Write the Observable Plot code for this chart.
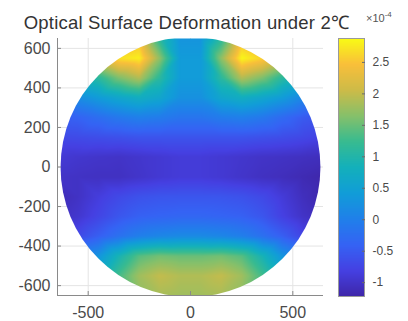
<!DOCTYPE html>
<html>
<head>
<meta charset="utf-8">
<script src="https://cdn.jsdelivr.net/npm/d3@7"></script>
<script src="https://cdn.jsdelivr.net/npm/@observablehq/plot@0.6"></script>
<style>
  html, body { margin: 0; padding: 0; background: #fff; }
  #chart { position: relative; width: 408px; height: 321px; overflow: hidden;
           font-family: "Liberation Sans", Arial, Helvetica, sans-serif; }
  #chart svg { position: absolute; left: 0; top: 0; }
  #title { position: absolute; left: 0; top: 14px; width: 373px; text-align: center;
           font-size: 18.5px; line-height: 18px; color: #333; white-space: nowrap; letter-spacing: 0.2px; }
  #exponent { position: absolute; left: 366px; top: 9px; font-size: 11px; line-height: 11px; color: #555; }
  #exponent sup { font-size: 8px; vertical-align: 5px; }
</style>
</head>
<body>
<div id="chart">
  <div id="title"></div>
  <div id="exponent"></div>
</div>
<script>
// Labels and axes
const titleText = "Optical Surface Deformation under 2℃";
const xTicks = [-500, 0, 500];
const yTicks = [-600, -400, -200, 0, 200, 400, 600];
const cbTicks = [-1, -0.5, 0, 0.5, 1, 1.5, 2, 2.5];
const cbExponent = -4;
const xDomain = [-650, 650];
const yDomain = [-650, 650];
const colorDomain = [-1.22, 2.88];
const apertureRadius = 635;

// Sample grid (mm) for the deformation field, values in units of 1e-4
const gridX = [-650, -550, -450, -350, -250, -150, -50, 50, 150, 250, 350, 450, 550, 650];
const gridY = [650, 550, 450, 350, 250, 150, 50, -50, -150, -250, -350, -450, -550, -650];
const zRow650  = [1.0, 1.5, 2.0, 2.4, 2.4, 1.1, 0.3, 0.3, 1.1, 2.4, 2.4, 2.0, 1.5, 1.0];
const zRow550  = [1.6, 1.9, 2.3, 2.7, 2.8, 1.7, 0.4, 0.4, 1.7, 2.85, 2.6, 2.3, 1.9, 1.6];
const zRow450  = [0.6, 0.8, 1.1, 1.6, 1.9, 1.1, 0.4, 0.4, 1.1, 1.9, 1.6, 1.1, 0.8, 0.6];
const zRow350  = [-0.1, 0.2, 0.4, 0.6, 0.75, 0.6, 0.25, 0.25, 0.6, 0.75, 0.6, 0.4, 0.1, -0.2];
const zRow250  = [-0.5, -0.4, -0.25, -0.1, 0.0, -0.05, -0.15, -0.15, -0.05, 0.0, -0.1, -0.3, -0.5, -0.6];
const zRow150  = [-0.7, -0.68, -0.65, -0.62, -0.58, -0.58, -0.58, -0.58, -0.58, -0.58, -0.62, -0.66, -0.72, -0.8];
const zRow50   = [-0.9, -0.95, -0.98, -1.0, -0.96, -0.92, -0.88, -0.88, -0.92, -0.96, -1.0, -1.02, -1.05, -1.08];
const zRowM50  = [-1.0, -1.02, -1.04, -1.04, -0.98, -0.92, -0.88, -0.88, -0.92, -0.98, -1.04, -1.08, -1.14, -1.2];
const zRowM150 = [-1.12, -1.02, -0.85, -0.7, -0.6, -0.56, -0.55, -0.55, -0.56, -0.6, -0.7, -0.88, -1.07, -1.2];
const zRowM250 = [-1.05, -0.95, -0.75, -0.55, -0.42, -0.38, -0.35, -0.35, -0.38, -0.42, -0.55, -0.8, -1.0, -1.1];
const zRowM350 = [-0.95, -0.7, -0.45, -0.2, 0.0, 0.1, 0.15, 0.15, 0.1, 0.0, -0.2, -0.45, -0.75, -1.0];
const zRowM450 = [-0.5, -0.1, 0.3, 0.9, 1.4, 1.55, 1.5, 1.5, 1.55, 1.4, 0.9, 0.3, -0.1, -0.5];
const zRowM550 = [0.3, 0.7, 1.0, 1.3, 1.8, 2.0, 1.9, 1.9, 2.0, 1.8, 1.3, 1.0, 0.7, 0.3];
const zRowM650 = [0.6, 0.9, 1.1, 1.4, 1.7, 1.85, 1.8, 1.8, 1.85, 1.7, 1.4, 1.1, 0.9, 0.6];
const zRows = [zRow650, zRow550, zRow450, zRow350, zRow250, zRow150, zRow50,
               zRowM50, zRowM150, zRowM250, zRowM350, zRowM450, zRowM550, zRowM650];

// Parula-like colormap, evenly spaced stops
const parulaStops = ["#3e26a8", "#4540e2", "#3563f4", "#2080ea", "#119dd8", "#13b0bb",
                     "#38bb90", "#86c06a", "#cdbb48", "#f9bf3a", "#f9fb15"];
const parula = d3.piecewise(d3.interpolateRgb, parulaStops);

const samples = [];
gridY.forEach((y, i) => gridX.forEach((x, j) => samples.push({x, y, z: zRows[i][j]})));

const colorScale = {type: "linear", domain: colorDomain, interpolate: parula, clamp: true};
const fmt = d => String(d);
const fontStack = '"Liberation Sans", Arial, Helvetica, sans-serif';

// Surface map
const main = Plot.plot({
  width: 408, height: 321,
  marginLeft: 57, marginRight: 85, marginTop: 38, marginBottom: 26,
  x: {domain: xDomain, label: null},
  y: {domain: yDomain, label: null},
  color: colorScale,
  style: {fontFamily: fontStack, fontSize: "16px", color: "#4a4a4a", background: "transparent"},
  marks: [
    Plot.gridX(xTicks, {stroke: "#e4e4e4", strokeOpacity: 1}),
    Plot.gridY(yTicks, {stroke: "#e4e4e4", strokeOpacity: 1}),
    Plot.raster(samples, {
      x: "x", y: "y", fill: "z", interpolate: "barycentric",
      x1: xDomain[0], x2: xDomain[1], y1: yDomain[0], y2: yDomain[1]
    }),
    Plot.ruleX([xDomain[0]], {stroke: "#8a8a8a"}),
    Plot.ruleY([yDomain[0]], {stroke: "#8a8a8a"}),
    Plot.axisX(xTicks, {tickSize: 0, tickPadding: 11, tickFormat: fmt, label: null}),
    Plot.axisX(xTicks, {tickSize: 4, dy: -4, tickFormat: () => "", stroke: "#8a8a8a", label: null}),
    Plot.axisY(yTicks, {tickSize: 0, tickPadding: 7, tickFormat: fmt, label: null}),
    Plot.axisY(yTicks, {tickSize: 4, dx: 4, tickFormat: () => "", stroke: "#8a8a8a", label: null})
  ]
});

// Clip the field to the circular aperture
const sx = main.scale("x"), sy = main.scale("y");
const cx = sx.apply(0), cy = sy.apply(0);
const r = sx.apply(apertureRadius) - cx;
const ns = "http://www.w3.org/2000/svg";
const defs = document.createElementNS(ns, "defs");
const clip = document.createElementNS(ns, "clipPath");
clip.setAttribute("id", "aperture");
const circ = document.createElementNS(ns, "circle");
circ.setAttribute("cx", cx); circ.setAttribute("cy", cy); circ.setAttribute("r", r);
clip.appendChild(circ); defs.appendChild(clip); main.prepend(defs);
main.querySelector('g[aria-label="raster"]').setAttribute("clip-path", "url(#aperture)");

// Colorbar
const bar = Plot.plot({
  width: 408, height: 321,
  marginLeft: 338, marginRight: 44, marginTop: 38, marginBottom: 25,
  x: {domain: [0, 1], axis: null, label: null},
  y: {domain: colorDomain, label: null},
  color: colorScale,
  style: {fontFamily: fontStack, fontSize: "12px", color: "#4a4a4a", background: "transparent"},
  marks: [
    Plot.raster({fill: (x, y) => y, x1: 0, x2: 1, y1: colorDomain[0], y2: colorDomain[1]}),
    Plot.frame({stroke: "#9a9a9a"}),
    Plot.axisY(cbTicks, {anchor: "right", tickSize: 0, tickPadding: 8, tickFormat: fmt, label: null}),
    Plot.axisY(cbTicks, {anchor: "right", tickSize: 3, dx: -3, tickFormat: () => "", stroke: "#6a6a6a", label: null})
  ]
});

const chart = document.getElementById("chart");
chart.appendChild(main);
chart.appendChild(bar);
document.getElementById("title").textContent = titleText;
document.getElementById("exponent").innerHTML = "×10<sup>" + cbExponent + "</sup>";
</script>
</body>
</html>
